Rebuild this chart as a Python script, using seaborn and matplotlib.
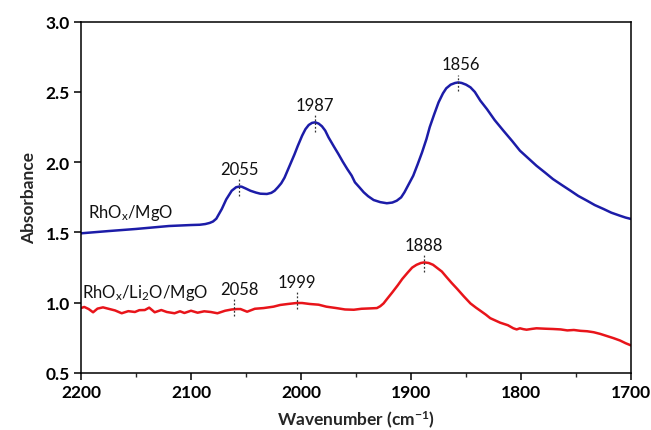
import matplotlib
matplotlib.use("Agg")
import matplotlib.pyplot as plt
from matplotlib.ticker import MultipleLocator
import seaborn as sns
import pandas as pd

# ---- data ----
blue_wn = [2200, 2175, 2150, 2120, 2100, 2092, 2087, 2083, 2080, 2077, 2072, 2068,
           2063, 2059, 2056, 2054, 2050, 2046, 2041, 2037, 2031, 2027, 2024, 2021,
           2018, 2015, 2012, 2009, 2006, 2003, 1999, 1996, 1993, 1990, 1987, 1984,
           1981, 1978, 1975, 1970, 1966, 1962, 1958, 1954, 1951, 1947, 1943, 1939,
           1934, 1928, 1922, 1917, 1913, 1909, 1906, 1902, 1898, 1894, 1890, 1886,
           1883, 1879, 1875, 1871, 1868, 1864, 1860, 1857, 1854, 1850, 1846, 1842,
           1837, 1831, 1824, 1816, 1808, 1801, 1793, 1786, 1778, 1771, 1763, 1755,
           1748, 1740, 1733, 1725, 1718, 1710, 1705, 1700]
blue_abs = [1.494, 1.510, 1.525, 1.546, 1.553, 1.555, 1.560, 1.568, 1.578, 1.598, 1.667, 1.735,
            1.797, 1.822, 1.827, 1.826, 1.812, 1.797, 1.784, 1.776, 1.774, 1.782, 1.797, 1.822,
            1.850, 1.890, 1.945, 2.000, 2.055, 2.115, 2.189, 2.235, 2.265, 2.280, 2.284, 2.275,
            2.256, 2.225, 2.177, 2.110, 2.058, 2.003, 1.952, 1.905, 1.857, 1.822, 1.786, 1.758,
            1.731, 1.716, 1.708, 1.713, 1.726, 1.750, 1.786, 1.845, 1.904, 1.985, 2.070, 2.165,
            2.250, 2.340, 2.426, 2.490, 2.526, 2.552, 2.564, 2.568, 2.564, 2.552, 2.533, 2.500,
            2.438, 2.378, 2.300, 2.224, 2.150, 2.082, 2.025, 1.975, 1.925, 1.880, 1.838, 1.797,
            1.760, 1.726, 1.695, 1.667, 1.641, 1.619, 1.606, 1.596]

red_wn = [2200, 2197, 2193, 2189, 2185, 2180, 2174, 2169, 2163, 2157, 2151, 2147,
          2142, 2138, 2133, 2127, 2122, 2115, 2110, 2106, 2100, 2094, 2088, 2082,
          2076, 2069, 2063, 2058, 2055, 2049, 2042, 2034, 2025, 2019, 2012, 2004,
          1999, 1992, 1984, 1977, 1968, 1960, 1952, 1945, 1936, 1931, 1928, 1925,
          1922, 1917, 1912, 1908, 1903, 1899, 1895, 1891, 1888, 1884, 1880, 1877,
          1872, 1868, 1863, 1858, 1852, 1846, 1841, 1837, 1832, 1828, 1819, 1812,
          1807, 1804, 1801, 1798, 1795, 1790, 1786, 1778, 1771, 1764, 1758, 1752,
          1746, 1740, 1734, 1728, 1722, 1716, 1710, 1705, 1700]
red_abs = [0.962, 0.970, 0.955, 0.932, 0.958, 0.967, 0.955, 0.945, 0.925, 0.940, 0.934, 0.947,
           0.948, 0.965, 0.932, 0.948, 0.934, 0.925, 0.939, 0.927, 0.943, 0.929, 0.939, 0.934,
           0.925, 0.943, 0.952, 0.955, 0.955, 0.936, 0.957, 0.962, 0.972, 0.984, 0.991, 0.998,
           0.998, 0.991, 0.986, 0.972, 0.962, 0.952, 0.950, 0.957, 0.960, 0.962, 0.975, 0.995,
           1.025, 1.074, 1.125, 1.169, 1.215, 1.250, 1.270, 1.283, 1.287, 1.283, 1.270, 1.252,
           1.222, 1.185, 1.140, 1.098, 1.045, 0.995, 0.965, 0.943, 0.915, 0.890, 0.858, 0.840,
           0.818, 0.810, 0.818, 0.812, 0.808, 0.814, 0.818, 0.815, 0.813, 0.810, 0.803, 0.806,
           0.800, 0.797, 0.790, 0.778, 0.763, 0.748, 0.731, 0.712, 0.696]

series_names = [r'RhO$_\mathregular{x}$/MgO', r'RhO$_\mathregular{x}$/Li$_\mathregular{2}$O/MgO']

# peak annotations: label, line position (cm-1), label position (cm-1), level (absorbance)
peak_labels = ['2055', '1987', '1856', '2058', '1999', '1888']
peak_pos = [2056, 1987, 1857, 2061, 2004, 1888]
peak_text_pos = [2056, 1987, 1855, 2056, 2004, 1888]
peak_level = [1.818, 2.278, 2.564, 0.965, 1.015, 1.281]

x_ticks = [2200, 2100, 2000, 1900, 1800, 1700]
y_ticks = [0.5, 1.0, 1.5, 2.0, 2.5, 3.0]

# ---- style ----
sns.set_style("ticks")
plt.rcParams['font.family'] = ['Lato', 'DejaVu Sans']
plt.rcParams['mathtext.fontset'] = 'custom'
plt.rcParams['mathtext.rm'] = 'Lato'
plt.rcParams['mathtext.bf'] = 'Lato:bold'
plt.rcParams['mathtext.default'] = 'regular'

df = pd.concat([
    pd.DataFrame({'wn': blue_wn, 'A': blue_abs, 'sample': series_names[0]}),
    pd.DataFrame({'wn': red_wn, 'A': red_abs, 'sample': series_names[1]}),
])

fig = plt.figure(figsize=(6.51, 4.31), dpi=100)
ax = fig.add_axes([0.1244, 0.1323, 0.845, 0.815])

sns.lineplot(data=df, x='wn', y='A', hue='sample',
             palette=['#1c1ca8', '#e8141a'], linewidth=1.8, ax=ax, legend=False,
             estimator=None, sort=True)

ax.set_xlim(2200, 1700)
ax.set_ylim(0.5, 3.0)
ax.set_xticks(x_ticks)
ax.set_yticks(y_ticks)
ax.set_yticklabels([f'{v:.1f}' for v in y_ticks])
ax.xaxis.set_minor_locator(MultipleLocator(50))
ax.tick_params(axis='both', which='major', direction='out', length=5, width=1.1,
               labelsize=12.5, pad=3, top=False, right=False, colors='black')
ax.tick_params(axis='x', which='minor', direction='out', length=3, width=1.0, top=False)
for lab in ax.get_xticklabels() + ax.get_yticklabels():
    lab.set_fontweight('bold')
for sp in ax.spines.values():
    sp.set_visible(True)
    sp.set_linewidth(1.1)
    sp.set_color('black')

ax.set_xlabel(r'Wavenumber (cm$^{\mathbf{-1}}$)', fontsize=12.5, fontweight='bold', labelpad=6)
ax.set_ylabel('Absorbance', fontsize=12.5, fontweight='bold', labelpad=6)

# series labels
ax.text(2193.5, 1.644, series_names[0], fontsize=12, ha='left', va='center', color='#111111')
ax.text(2199.5, 1.076, series_names[1], fontsize=12, ha='left', va='center', color='#111111')

# peak marks
for lab, pos, tpos, lev in zip(peak_labels, peak_pos, peak_text_pos, peak_level):
    ax.plot([pos, pos], [lev - 0.06, lev + 0.06], color='#333333', linestyle=(0, (1.5, 1.5)),
            linewidth=0.9)
    ax.text(tpos, lev + 0.075, lab, fontsize=12, ha='center', va='bottom', color='#111111')

fig.savefig('out.png', dpi=100)
